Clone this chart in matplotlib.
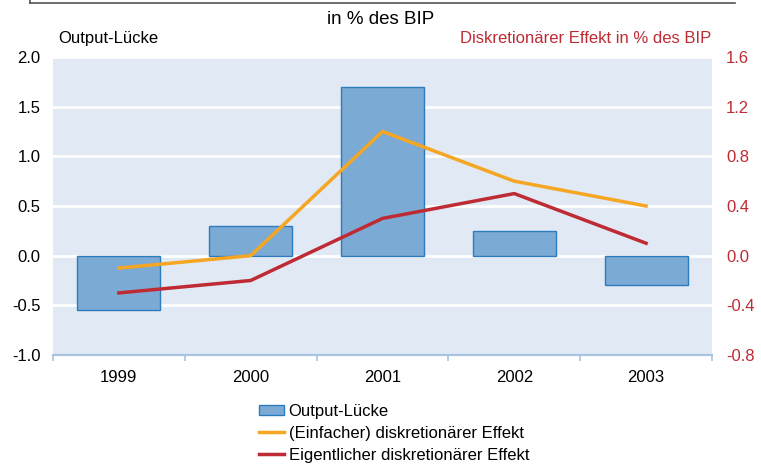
import matplotlib.pyplot as plt
import numpy as np
from matplotlib.lines import Line2D
from matplotlib.patches import Patch

plt.rcParams["font.family"] = ["Liberation Sans", "DejaVu Sans"]

years = ["1999", "2000", "2001", "2002", "2003"]
output_gap = [-0.55, 0.3, 1.7, 0.25, -0.3]
simple_effect = [-0.1, 0.0, 1.0, 0.6, 0.4]
actual_effect = [-0.3, -0.2, 0.3, 0.5, 0.1]

left_ticks = [-1.0, -0.5, 0.0, 0.5, 1.0, 1.5, 2.0]
right_ticks = [-0.8, -0.4, 0.0, 0.4, 0.8, 1.2, 1.6]

BG = "#E1E9F4"
BAR = "#7BAAD4"
BAR_EDGE = "#2B7BBF"
ORANGE = "#F5A623"
RED = "#BE2B34"
AXIS_BLUE = "#A9C4E0"

fig = plt.figure(figsize=(7.61, 4.66), dpi=100)
ax = fig.add_axes([0.0696, 0.2382, 0.866, 0.6395])
ax2 = ax.twinx()

x = np.arange(len(years))
ax.set_facecolor(BG)
ax.bar(x, output_gap, width=0.63, color=BAR, edgecolor=BAR_EDGE, linewidth=1.0, zorder=3)
ax.set_ylim(-1.0, 2.0)
ax.set_yticks(left_ticks)
ax.set_yticklabels([f"{t:.1f}" for t in left_ticks], fontsize=12)
ax.yaxis.grid(True, color="white", linewidth=2.0, zorder=1)
ax.set_axisbelow(True)
ax.set_xlim(-0.5, len(years) - 0.5)
ax.set_xticks(x)
ax.set_xticklabels(years, fontsize=12)
ax.set_xticks(np.arange(-0.5, len(years)), minor=True)
ax.tick_params(axis="x", which="major", length=0, pad=11)
ax.tick_params(axis="x", which="minor", length=4, color=AXIS_BLUE, width=1.2)
ax.tick_params(axis="y", length=0, pad=9)

ax2.plot(x, simple_effect, color=ORANGE, linewidth=2.5, zorder=4)
ax2.plot(x, actual_effect, color=RED, linewidth=2.5, zorder=4)
ax2.set_ylim(-0.8, 1.6)
ax2.set_yticks(right_ticks)
ax2.set_yticklabels([f"{t:.1f}" for t in right_ticks], fontsize=12, color=RED)
ax2.tick_params(axis="y", length=0, pad=10)

for a in (ax, ax2):
    for side in ("top", "left", "right"):
        a.spines[side].set_visible(False)
    a.spines["bottom"].set_color(AXIS_BLUE)
    a.spines["bottom"].set_linewidth(1.5)

fig.text(0.5, 0.958, "in % des BIP", ha="center", va="center", fontsize=13.5)
fig.text(0.076, 0.917, "Output-Lücke", ha="left", va="center", fontsize=12)
fig.text(0.935, 0.917, "Diskretionärer Effekt in % des BIP", ha="right", va="center",
         fontsize=12, color=RED)

# partial frame at top
fig.add_artist(Line2D([0.0394, 0.966], [0.993, 0.993], color="#555555", linewidth=1.2))
fig.add_artist(Line2D([0.0394, 0.0394], [0.993, 1.0], color="#555555", linewidth=1.2))

handles = [
    Patch(facecolor=BAR, edgecolor=BAR_EDGE, linewidth=1.0),
    Line2D([], [], color=ORANGE, linewidth=2.5),
    Line2D([], [], color=RED, linewidth=2.5),
]
labels = ["Output-Lücke", "(Einfacher) diskretionärer Effekt", "Eigentlicher diskretionärer Effekt"]
fig.legend(handles, labels, loc="upper left", bbox_to_anchor=(0.34, 0.133), frameon=False,
           fontsize=12, handlelength=1.5, handleheight=0.6, handletextpad=0.3,
           labelspacing=0.42, borderpad=0, borderaxespad=0)

fig.savefig("out.png", dpi=100)
